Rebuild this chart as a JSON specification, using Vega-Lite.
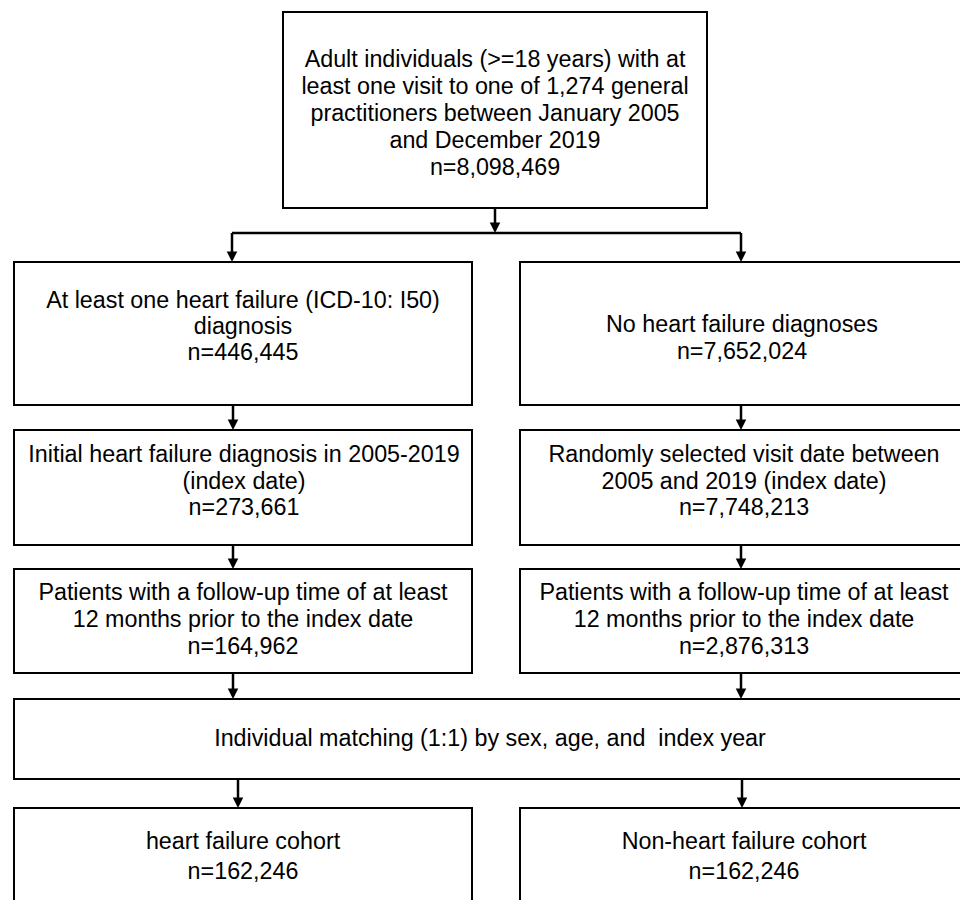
{
  "$schema": "https://vega.github.io/schema/vega-lite/v6.json",
  "width": 960,
  "height": 900,
  "padding": 0,
  "autosize": {"type": "none"},
  "background": "white",
  "config": {"view": {"stroke": null}},
  "datasets": {
    "boxes": [
      {"id": "top", "x1": 283, "x2": 707, "y1": 12, "y2": 208},
      {"id": "l2", "x1": 14, "x2": 472, "y1": 262, "y2": 405},
      {"id": "r2", "x1": 520, "x2": 968, "y1": 262, "y2": 405},
      {"id": "l3", "x1": 14, "x2": 472, "y1": 430, "y2": 545},
      {"id": "r3", "x1": 520, "x2": 968, "y1": 430, "y2": 545},
      {"id": "l4", "x1": 14, "x2": 472, "y1": 569, "y2": 673},
      {"id": "r4", "x1": 520, "x2": 968, "y1": 569, "y2": 673},
      {"id": "match", "x1": 14, "x2": 968, "y1": 699, "y2": 779},
      {"id": "l5", "x1": 14, "x2": 472, "y1": 808, "y2": 910},
      {"id": "r5", "x1": 520, "x2": 968, "y1": 808, "y2": 910}
    ],
    "lines": [
      {"x1": 495, "x2": 495, "y1": 208, "y2": 228},
      {"x1": 232, "x2": 741, "y1": 233, "y2": 233},
      {"x1": 232, "x2": 232, "y1": 233, "y2": 257},
      {"x1": 741, "x2": 741, "y1": 233, "y2": 257},
      {"x1": 233, "x2": 233, "y1": 405, "y2": 425},
      {"x1": 741, "x2": 741, "y1": 405, "y2": 425},
      {"x1": 233, "x2": 233, "y1": 545, "y2": 564},
      {"x1": 741, "x2": 741, "y1": 545, "y2": 564},
      {"x1": 233, "x2": 233, "y1": 673, "y2": 694},
      {"x1": 741, "x2": 741, "y1": 673, "y2": 694},
      {"x1": 238, "x2": 238, "y1": 779, "y2": 803},
      {"x1": 742, "x2": 742, "y1": 779, "y2": 803}
    ],
    "arrows": [
      {"x": 495, "y": 233},
      {"x": 232, "y": 262},
      {"x": 741, "y": 262},
      {"x": 233, "y": 430},
      {"x": 741, "y": 430},
      {"x": 233, "y": 569},
      {"x": 741, "y": 569},
      {"x": 233, "y": 699},
      {"x": 741, "y": 699},
      {"x": 238, "y": 808},
      {"x": 742, "y": 808}
    ],
    "texts": [
      {"x": 495, "y": 60, "label": "Adult individuals (>=18 years) with at"},
      {"x": 495, "y": 87, "label": "least one visit to one of 1,274 general"},
      {"x": 495, "y": 114, "label": "practitioners between January 2005"},
      {"x": 495, "y": 141, "label": "and December 2019"},
      {"x": 495, "y": 168, "label": "n=8,098,469"},
      {"x": 243, "y": 301, "label": "At least one heart failure (ICD-10: I50)"},
      {"x": 243, "y": 327, "label": "diagnosis"},
      {"x": 243, "y": 353, "label": "n=446,445"},
      {"x": 742, "y": 325, "label": "No heart failure diagnoses"},
      {"x": 742, "y": 352, "label": "n=7,652,024"},
      {"x": 244, "y": 455, "label": "Initial heart failure diagnosis in 2005-2019"},
      {"x": 244, "y": 482, "label": "(index date)"},
      {"x": 244, "y": 508, "label": "n=273,661"},
      {"x": 744, "y": 455, "label": "Randomly selected visit date between"},
      {"x": 744, "y": 482, "label": "2005 and 2019 (index date)"},
      {"x": 744, "y": 508, "label": "n=7,748,213"},
      {"x": 243, "y": 593, "label": "Patients with a follow-up time of at least"},
      {"x": 243, "y": 620, "label": "12 months prior to the index date"},
      {"x": 243, "y": 647, "label": "n=164,962"},
      {"x": 744, "y": 593, "label": "Patients with a follow-up time of at least"},
      {"x": 744, "y": 620, "label": "12 months prior to the index date"},
      {"x": 744, "y": 647, "label": "n=2,876,313"},
      {"x": 490, "y": 739, "label": "Individual matching (1:1) by sex, age, and \u00a0index year"},
      {"x": 243, "y": 842, "label": "heart failure cohort"},
      {"x": 243, "y": 872, "label": "n=162,246"},
      {"x": 744, "y": 842, "label": "Non-heart failure cohort"},
      {"x": 744, "y": 872, "label": "n=162,246"}
    ]
  },
  "layer": [
    {
      "data": {"name": "boxes"},
      "mark": {"type": "rect", "fill": "white", "stroke": "black", "strokeWidth": 2, "clip": true},
      "encoding": {
        "x": {"field": "x1", "type": "quantitative", "scale": {"domain": [0, 960], "nice": false, "zero": false}, "axis": null},
        "x2": {"field": "x2"},
        "y": {"field": "y1", "type": "quantitative", "scale": {"domain": [900, 0], "nice": false, "zero": false}, "axis": null},
        "y2": {"field": "y2"}
      }
    },
    {
      "data": {"name": "lines"},
      "mark": {"type": "rule", "stroke": "black", "strokeWidth": 2.5},
      "encoding": {
        "x": {"field": "x1", "type": "quantitative", "axis": null},
        "x2": {"field": "x2"},
        "y": {"field": "y1", "type": "quantitative", "axis": null},
        "y2": {"field": "y2"}
      }
    },
    {
      "data": {"name": "arrows"},
      "mark": {"type": "point", "shape": "M-1,-2L1,-2L0,0Z", "filled": true, "fill": "black", "stroke": null, "size": 110, "opacity": 1},
      "encoding": {
        "x": {"field": "x", "type": "quantitative", "axis": null},
        "y": {"field": "y", "type": "quantitative", "axis": null}
      }
    },
    {
      "data": {"name": "texts"},
      "mark": {"type": "text", "font": "Liberation Sans", "fontSize": 23.3, "fill": "black", "align": "center", "baseline": "middle"},
      "encoding": {
        "x": {"field": "x", "type": "quantitative", "axis": null},
        "y": {"field": "y", "type": "quantitative", "axis": null},
        "text": {"field": "label"}
      }
    }
  ]
}
